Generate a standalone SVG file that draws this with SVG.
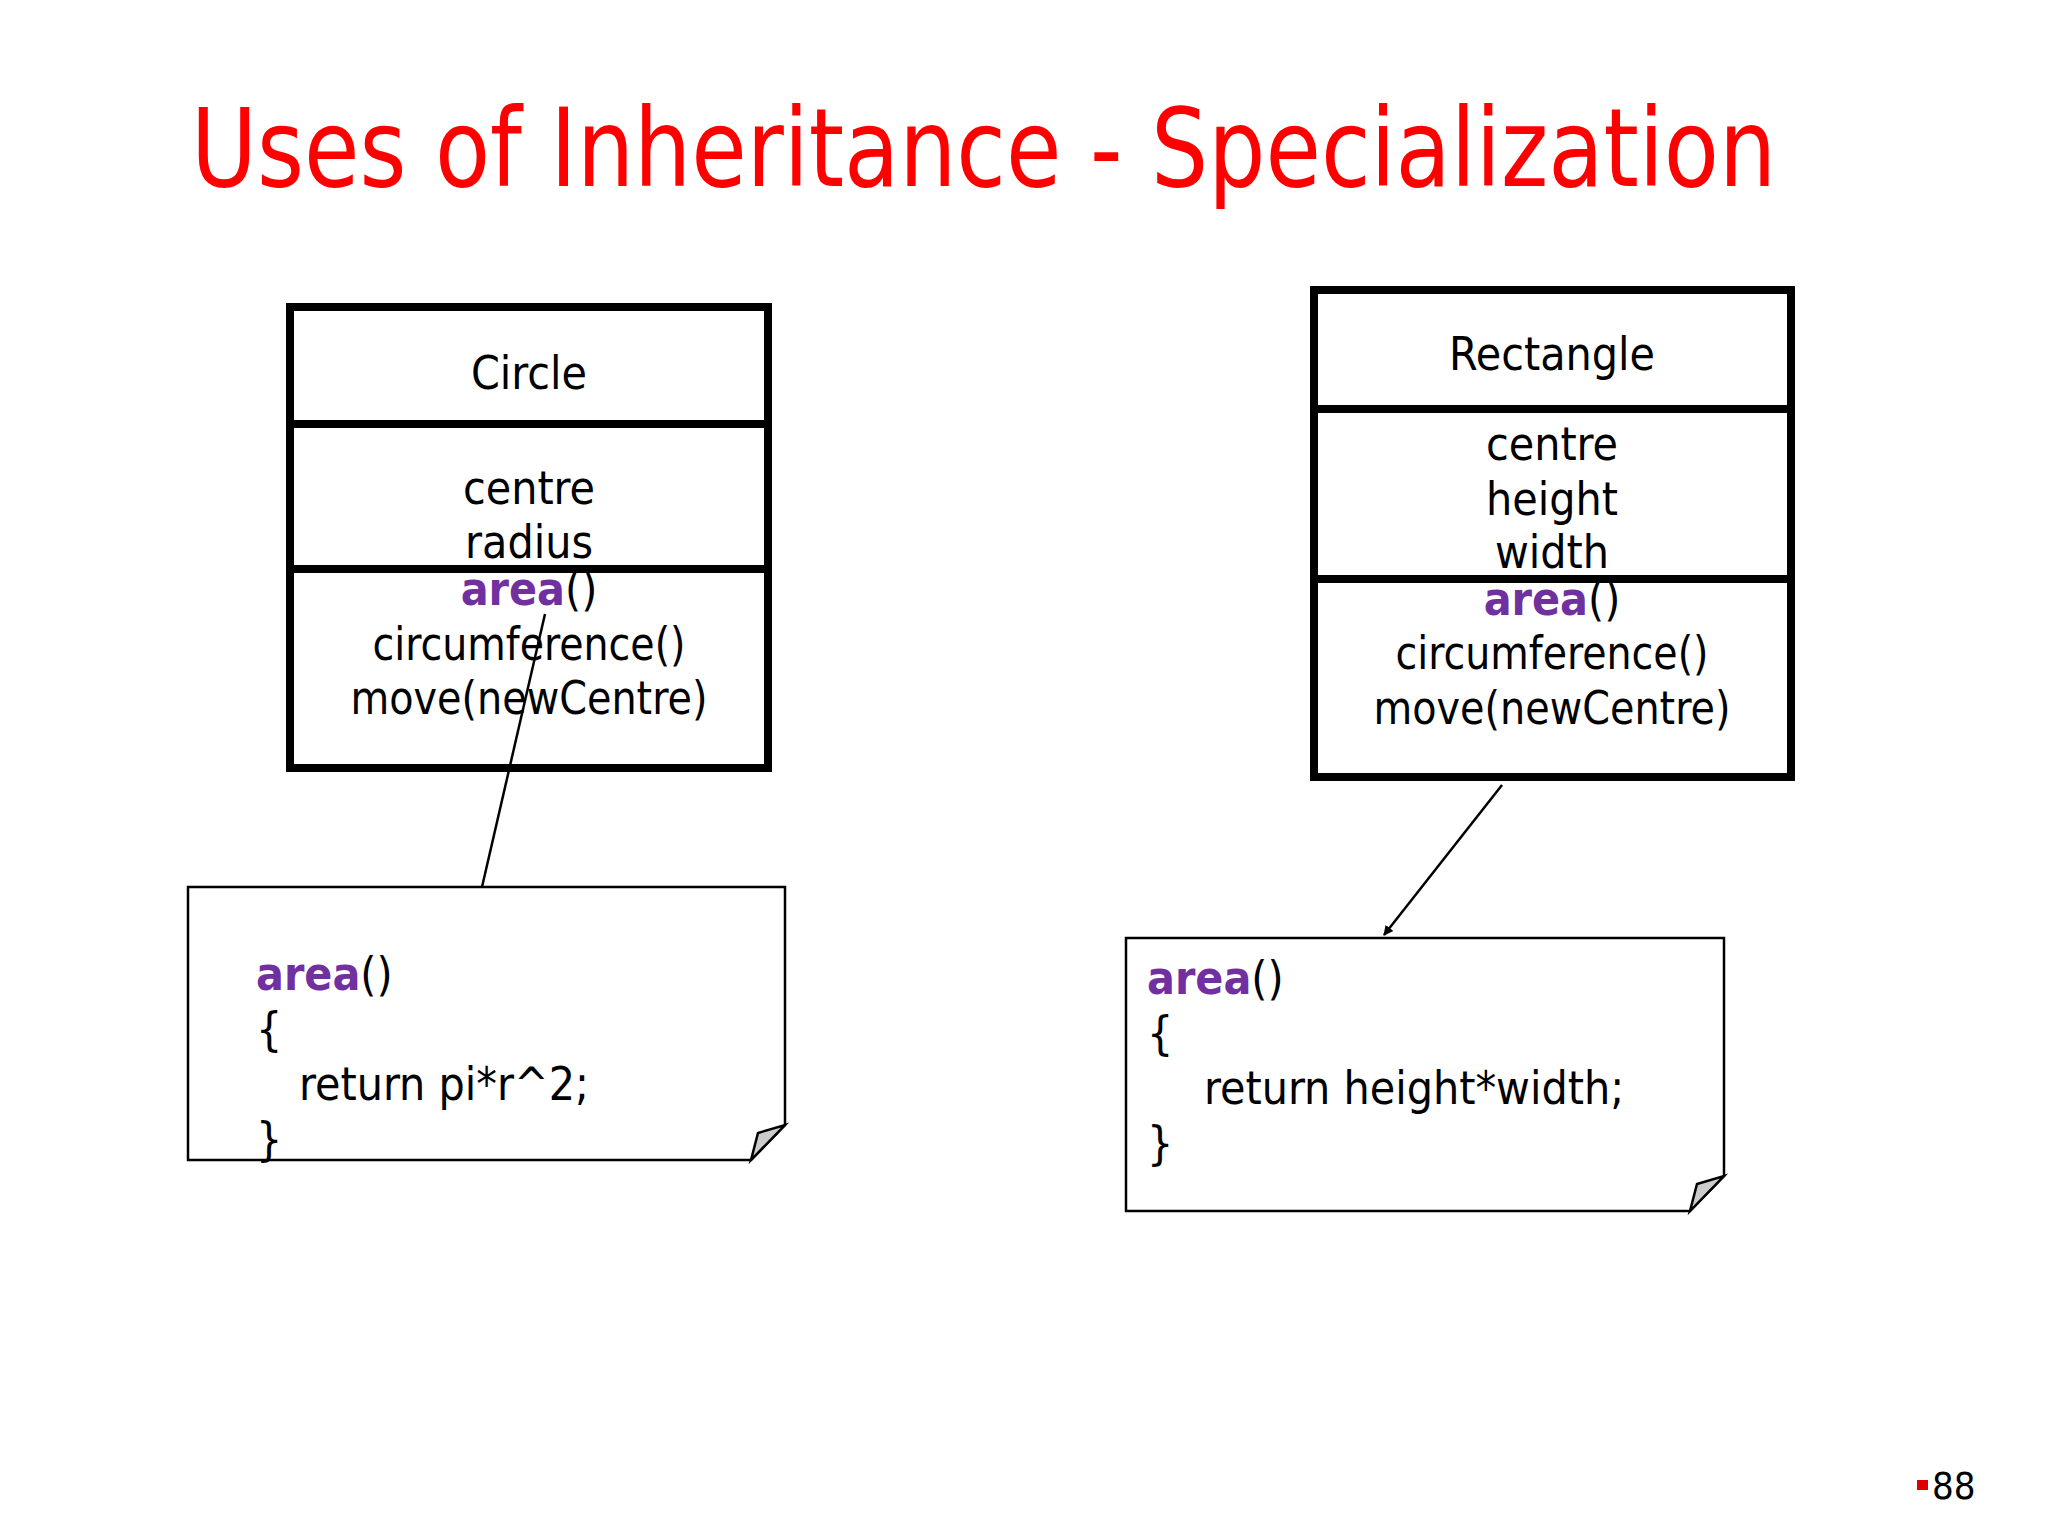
<svg xmlns="http://www.w3.org/2000/svg" width="2048" height="1536" viewBox="0 0 2048 1536">
<style>
.t{font-family:"DejaVu Sans Condensed","DejaVu Sans",sans-serif;font-size:46px;fill:#000}
.c{text-anchor:middle}
.p{fill:#7030A0;font-weight:bold}
.box{fill:#fff;stroke:#000;stroke-width:8}
.note{fill:#fff;stroke:#000;stroke-width:2.5}
</style>
<defs><marker id="ah" markerWidth="10" markerHeight="10" refX="9" refY="5" orient="auto" markerUnits="userSpaceOnUse" viewBox="0 0 10 10"><path d="M0,0 L10,5 L0,10 z" fill="#000"/></marker></defs>
<rect width="2048" height="1536" fill="#fff"/>
<text x="191" y="186" font-family="'DejaVu Sans Condensed','DejaVu Sans',sans-serif" font-size="108" fill="#f00" textLength="1585" lengthAdjust="spacingAndGlyphs">Uses of Inheritance - Specialization</text>
<g id="circle">
<rect class="box" x="290" y="307" width="478" height="461"/>
<line x1="290" y1="424" x2="768" y2="424" stroke="#000" stroke-width="8"/>
<line x1="290" y1="569" x2="768" y2="569" stroke="#000" stroke-width="8"/>
<text class="t c" x="529" y="389">Circle</text>
<text class="t c" x="529" y="504">centre</text>
<text class="t c" x="529" y="558">radius</text>
<text class="t c" x="529" y="605"><tspan class="p">area</tspan>()</text>
<text class="t c" x="529" y="660" textLength="313" lengthAdjust="spacingAndGlyphs">circumference()</text>
<text class="t c" x="529" y="714" textLength="357" lengthAdjust="spacingAndGlyphs">move(newCentre)</text>
</g>
<g id="rectangle">
<rect class="box" x="1314" y="290" width="477" height="487"/>
<line x1="1314" y1="409" x2="1791" y2="409" stroke="#000" stroke-width="8"/>
<line x1="1314" y1="579" x2="1791" y2="579" stroke="#000" stroke-width="8"/>
<text class="t c" x="1552" y="370">Rectangle</text>
<text class="t c" x="1552" y="460">centre</text>
<text class="t c" x="1552" y="515">height</text>
<text class="t c" x="1552" y="568">width</text>
<text class="t c" x="1552" y="615"><tspan class="p">area</tspan>()</text>
<text class="t c" x="1552" y="669" textLength="313" lengthAdjust="spacingAndGlyphs">circumference()</text>
<text class="t c" x="1552" y="724" textLength="357" lengthAdjust="spacingAndGlyphs">move(newCentre)</text>
</g>
<g id="note1">
<path class="note" d="M188,887 H785 V1125 L751,1160 H188 Z"/>
<path class="note" d="M751,1160 L758,1133 L785,1125 Z" fill="#ccc" style="fill:#ccc"/>
<text class="t" x="256" y="990"><tspan class="p">area</tspan>()</text>
<text class="t" x="256" y="1045">{</text>
<text class="t" x="299" y="1100">return pi*r^2;</text>
<text class="t" x="256" y="1155">}</text>
</g>
<g id="note2">
<path class="note" d="M1126,938 H1724 V1176 L1690,1211 H1126 Z"/>
<path class="note" d="M1690,1211 L1697,1184 L1724,1176 Z" style="fill:#ccc"/>
<text class="t" x="1147" y="994"><tspan class="p">area</tspan>()</text>
<text class="t" x="1147" y="1049">{</text>
<text class="t" x="1204" y="1104">return height*width;</text>
<text class="t" x="1147" y="1159">}</text>
</g>
<g id="connectors" stroke="#000" stroke-width="2.5" fill="none">
<line x1="482" y1="887" x2="545" y2="614"/>
<line x1="1502" y1="785" x2="1384" y2="935" marker-end="url(#ah)"/>
</g>
<rect x="1917" y="1480" width="11" height="10" fill="#d00"/>
<text x="1932" y="1499" font-family="'DejaVu Sans Condensed','DejaVu Sans',sans-serif" font-size="38">88</text>
</svg>
